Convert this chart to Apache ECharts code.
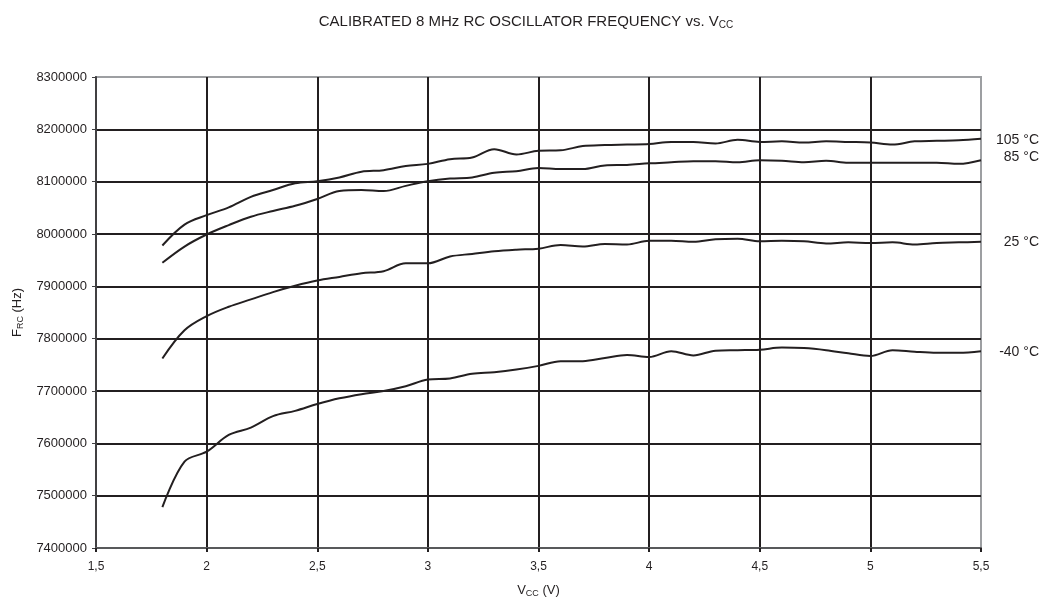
<!DOCTYPE html>
<html>
<head>
<meta charset="utf-8">
<script src="https://cdn.jsdelivr.net/npm/echarts@6/dist/echarts.min.js"></script>
<style>
  html, body { margin: 0; padding: 0; background: #fff; }
  #chart { width: 1052px; height: 606px; }
</style>
</head>
<body>
<div id="chart"></div>
<script>
// supply voltage (V)
var vcc = [1.8, 1.9, 2.0, 2.1, 2.2, 2.3, 2.4, 2.5, 2.6, 2.7, 2.8, 2.9, 3.0, 3.1, 3.2, 3.3, 3.4, 3.5, 3.6,
  3.7, 3.8, 3.9, 4.0, 4.1, 4.2, 4.3, 4.4, 4.5, 4.6, 4.7, 4.8, 4.9, 5.0, 5.1, 5.2, 5.3, 5.4, 5.5];

// frequency per temperature (Hz)
var f105 = [7978000, 8018000, 8036000, 8051000, 8071000, 8084000, 8097000, 8101000, 8108000, 8119000,
  8122000, 8130000, 8134000, 8143000, 8146000, 8162000, 8152000, 8159000, 8160000, 8168000,
  8170000, 8171000, 8172000, 8176000, 8176000, 8173000, 8180000, 8176000, 8177000, 8175000,
  8177000, 8176000, 8175000, 8171000, 8177000, 8178000, 8179000, 8182000];
var f85 = [7945000, 7976000, 7999000, 8017000, 8033000, 8044000, 8054000, 8067000, 8082000, 8084000,
  8082000, 8092000, 8101000, 8106000, 8108000, 8117000, 8120000, 8126000, 8124000, 8124000,
  8131000, 8132000, 8135000, 8137000, 8139000, 8139000, 8137000, 8141000, 8140000, 8137000,
  8140000, 8136000, 8136000, 8136000, 8136000, 8136000, 8134000, 8141000];
var f25 = [7762000, 7816000, 7843000, 7861000, 7875000, 7889000, 7901000, 7911000, 7918000, 7925000,
  7929000, 7944000, 7944000, 7957000, 7962000, 7967000, 7970000, 7972000, 7979000, 7976000,
  7981000, 7980000, 7987000, 7987000, 7985000, 7990000, 7991000, 7986000, 7987000, 7986000,
  7982000, 7984000, 7983000, 7984000, 7980000, 7983000, 7984000, 7985000];
var fm40 = [7478000, 7565000, 7584000, 7616000, 7630000, 7652000, 7662000, 7675000, 7686000, 7694000,
  7700000, 7709000, 7722000, 7724000, 7733000, 7736000, 7741000, 7748000, 7757000, 7757000,
  7763000, 7769000, 7765000, 7776000, 7768000, 7777000, 7778000, 7779000, 7783000, 7782000,
  7778000, 7772000, 7767000, 7778000, 7775000, 7773000, 7773000, 7776000];

var seriesNames = ['105 °C', '85 °C', '25 °C', '-40 °C'];
var seriesData = [f105, f85, f25, fm40];
var labelOffsets = [[0, 1], [0, -3], [0, 0], [0, 1]];

var fontFam = '"Liberation Sans", Arial, sans-serif';
var txtColor = '#231f20';

function pairs(ys) {
  var out = [];
  for (var i = 0; i < vcc.length; i++) {
    out.push([vcc[i], ys[i]]);
  }
  return out;
}

var subStyle = { fontSize: 9, verticalAlign: 'bottom', padding: [6, 0, 0, 0], color: txtColor, fontFamily: fontFam };

var searList = [];
for (var k = 0; k < seriesNames.length; k++) {
  searList.push({
    name: seriesNames[k],
    type: 'line',
    smooth: 0.35,
    showSymbol: false,
    silent: true,
    lineStyle: { color: txtColor, width: 2 },
    endLabel: {
      show: true,
      formatter: seriesNames[k],
      align: 'right',
      distance: 0,
      offset: [58 + labelOffsets[k][0], labelOffsets[k][1]],
      color: txtColor,
      fontSize: 14,
      fontFamily: fontFam
    },
    data: pairs(seriesData[k])
  });
}

var myChart = echarts.init(document.getElementById('chart'));
var option = {
  animation: false,
  backgroundColor: '#fff',
  title: {
    text: 'CALIBRATED 8 MHz RC OSCILLATOR FREQUENCY vs. V{sub|CC}',
    left: 'center',
    top: 8,
    textStyle: {
      fontSize: 15,
      fontWeight: 'normal',
      color: txtColor,
      fontFamily: fontFam,
      rich: {
        sub: { fontSize: 10, verticalAlign: 'bottom', padding: [7, 0, 0, 0], color: txtColor, fontFamily: fontFam }
      }
    }
  },
  grid: {
    left: 96,
    right: 71,
    top: 77,
    bottom: 58,
    show: true,
    borderColor: '#9d9fa2',
    borderWidth: 2,
    containLabel: false,
    outerBoundsMode: 'none'
  },
  xAxis: {
    type: 'value',
    min: 1.5,
    max: 5.5,
    interval: 0.5,
    name: 'V{sub|CC} (V)',
    nameLocation: 'middle',
    nameGap: 35,
    nameTextStyle: {
      fontSize: 13,
      color: txtColor,
      fontFamily: fontFam,
      rich: { sub: subStyle }
    },
    axisLine: { show: true, onZero: false, lineStyle: { color: '#58595b', width: 2 } },
    axisTick: { show: true, length: 4, lineStyle: { color: txtColor, width: 2 } },
    axisLabel: {
      margin: 13,
      fontSize: 12,
      color: txtColor,
      fontFamily: fontFam,
      formatter: function (v) { return String(v).replace('.', ','); }
    },
    splitLine: {
      show: true,
      showMinLine: false,
      showMaxLine: false,
      lineStyle: { color: txtColor, width: 2 }
    }
  },
  yAxis: {
    type: 'value',
    min: 7400000,
    max: 8300000,
    interval: 100000,
    name: 'F{sub|RC} (Hz)',
    nameLocation: 'middle',
    nameGap: 71,
    nameTextStyle: {
      fontSize: 13,
      color: txtColor,
      fontFamily: fontFam,
      rich: { sub: subStyle }
    },
    axisLine: { show: true, lineStyle: { color: '#414042', width: 2 } },
    axisTick: { show: true, length: 4, lineStyle: { color: '#414042', width: 1 } },
    axisLabel: {
      margin: 9,
      fontSize: 13,
      color: txtColor,
      fontFamily: fontFam,
      formatter: function (v) { return String(v); }
    },
    splitLine: {
      show: true,
      showMinLine: false,
      showMaxLine: false,
      lineStyle: { color: txtColor, width: 2 }
    }
  },
  series: searList
};
myChart.setOption(option);
</script>
</body>
</html>
